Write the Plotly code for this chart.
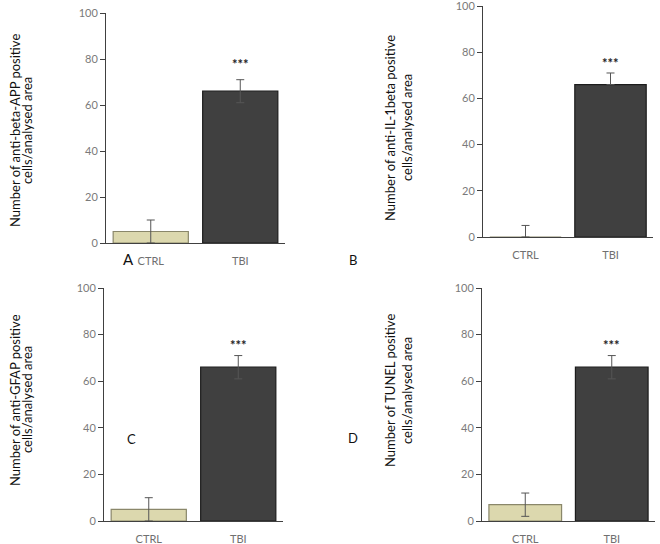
import plotly.graph_objects as go

categories = ["CTRL", "TBI"]

a_vals = [5, 66]
a_err_plus = [5, 5]
a_err_minus = [5, 5]

b_vals = [0, 66]
b_err_plus = [5, 5]
b_err_minus = [0, 0]

c_vals = [5, 66]
c_err_plus = [5, 5]
c_err_minus = [5, 5]

d_vals = [7, 66]
d_err_plus = [5, 5]
d_err_minus = [5, 5]

sig_labels = ["", "***"]
sig_heights = [78, 75.5, 75.5, 75.5]

y_titles = [
    ["Number of anti-beta-APP positive", "cells/analysed area"],
    ["Number of anti-IL-1beta positive", "cells/analysed area"],
    ["Number of anti-GFAP positive", "cells/analysed area"],
    ["Number of TUNEL positive", "cells/analysed area"],
]
panel_letters = ["A", "B", "C", "D"]
y_ticks = [0, 20, 40, 60, 80, 100]

W, H = 660, 544
FONT = "Lato"
bar_colors = ["#dcd8ae", "#404040"]
bar_lines = ["#8a876a", "#1c1c1c"]

panels = [
    (a_vals, a_err_plus, a_err_minus),
    (b_vals, b_err_plus, b_err_minus),
    (c_vals, c_err_plus, c_err_minus),
    (d_vals, d_err_plus, d_err_minus),
]

# plot-area boxes in pixels: left, right, top, bottom
boxes = [
    (106, 285, 13, 243),
    (483, 653, 6, 237),
    (104, 283, 288, 521),
    (482, 655, 288, 521),
]
title_x = [(15, 27), (390, 407), (15, 27), (390, 407)]
title_y = [131, 128, 400, 391]
letter_pos = [(128, 259, 15), (353, 260, 13), (131, 439, 13), (353, 438, 13)]

fig = go.Figure()
annotations = []
layout = {}
for i, (vals, ep, em) in enumerate(panels):
    n = "" if i == 0 else str(i + 1)
    xa, ya = "x" + n, "y" + n
    fig.add_trace(go.Bar(
        x=categories, y=vals, xaxis=xa, yaxis=ya, width=0.84,
        marker=dict(color=bar_colors, line=dict(color=bar_lines, width=1.2)),
        error_y=dict(type="data", array=ep, arrayminus=em, symmetric=False,
                     color="#555555", thickness=1, width=4),
        showlegend=False, hoverinfo="skip",
    ))
    l, r, t, b = boxes[i]
    layout["xaxis" + n] = dict(
        domain=[l / W, r / W], anchor=ya, range=[-0.5, 1.5],
        showline=True, linecolor="#404040", linewidth=1, ticks="",
        ticklabelstandoff=8, automargin=False, ticklabeloverflow="allow",
        tickfont=dict(family=FONT, size=11, color="#707070"), showgrid=False,
        fixedrange=True,
    )
    layout["yaxis" + n] = dict(
        domain=[1 - b / H, 1 - t / H], anchor=xa, range=[0, 100],
        tickvals=y_ticks, showline=True, linecolor="#404040", linewidth=1,
        ticks="outside", ticklen=5, tickcolor="#404040", automargin=False,
        ticklabeloverflow="allow",
        tickfont=dict(family=FONT, size=11, color="#7a7a7a"), showgrid=False,
        zeroline=False, fixedrange=True,
    )
    annotations.append(dict(
        x=categories[1], y=sig_heights[i], xref=xa, yref=ya,
        text="<b>" + sig_labels[1] + "</b>",
        showarrow=False, xanchor="center", yanchor="middle",
        font=dict(family=FONT, size=13, color="#222222"),
    ))
    for k, line in enumerate(y_titles[i]):
        annotations.append(dict(
            x=title_x[i][k] / W, y=1 - title_y[i] / H, xref="paper", yref="paper",
            text=line, textangle=-90, showarrow=False,
            xanchor="center", yanchor="middle",
            font=dict(family=FONT, size=13, color="#111111"),
        ))
    lx, ly, ls = letter_pos[i]
    annotations.append(dict(
        x=lx / W, y=1 - ly / H, xref="paper", yref="paper", text=panel_letters[i],
        showarrow=False, xanchor="center", yanchor="middle",
        font=dict(family=FONT, size=ls, color="#111111"),
    ))

fig.update_layout(
    width=W, height=H, margin=dict(l=0, r=0, t=0, b=0, autoexpand=False),
    paper_bgcolor="white", plot_bgcolor="white",
    annotations=annotations, bargap=0.16, **layout,
)
fig.write_html("out.html", config={"displayModeBar": False},
               post_script="document.body.style.margin='0px';")
